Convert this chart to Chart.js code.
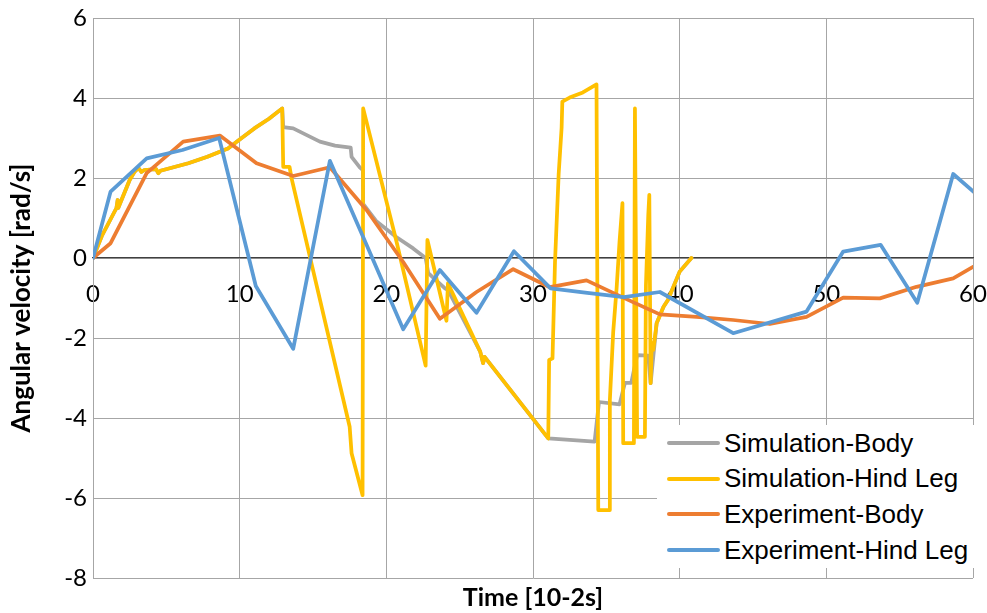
<!DOCTYPE html>
<html>
<head>
<meta charset="utf-8">
<script src="https://cdn.jsdelivr.net/npm/chart.js@4.4.1/dist/chart.umd.min.js"></script>
<style>
  body { margin: 0; background: #fff; }
  #wrap { position: relative; width: 987px; height: 613px; }
  #legend {
    position: absolute; left: 657px; top: 425px; width: 318px; height: 143px;
    background: #fff; font-family: "Liberation Sans", Arial, sans-serif; font-size: 26px; color: #000;
  }
  #legend .row { position: absolute; left: 0; height: 36px; display: flex; align-items: center; white-space: nowrap; }
  #legend .swatch { width: 53px; height: 4px; border-radius: 2px; margin-left: 10px; margin-right: 4px; }
</style>
</head>
<body>
<div id="wrap">
  <canvas id="c" width="987" height="613"></canvas>
  <div id="legend"></div>
</div>
<script>
// time axis in units of 10^-2 s, angular velocity in rad/s
const seriesNames = ["Simulation-Body", "Simulation-Hind Leg", "Experiment-Body", "Experiment-Hind Leg"];
const seriesColors = ["#A5A5A5", "#FFC000", "#ED7D31", "#5B9BD5"];

const simLegT = [0, 0.6, 1.6, 1.68, 1.72, 2.5, 2.84, 3.1, 3.3, 3.5, 4.3, 4.45, 4.6, 6.5, 7.8, 9.2, 10.0, 11.0, 12.0, 12.9,
  12.97, 13.4, 13.54, 17.5, 17.63, 18.38, 18.42, 20.7, 22.68, 22.8, 24.1, 24.2, 26.4, 26.6, 26.7, 31.04,
  31.1, 31.33, 31.5, 31.75, 31.95, 32.0, 32.5, 33.4, 34.33, 34.45, 35.24, 35.24, 35.47, 35.7, 35.9, 36.1,
  36.15, 36.88, 36.95, 37.1, 37.63, 37.7, 37.86, 37.93, 38.02, 38.1, 38.2, 38.43, 38.9, 39.2, 40.0, 40.8];
const simLegV = [0, 0.55, 1.25, 1.45, 1.25, 1.95, 2.16, 2.25, 2.15, 2.2, 2.22, 2.12, 2.18, 2.37, 2.53, 2.74, 2.96, 3.24, 3.48, 3.74,
  2.28, 2.28, 1.99, -4.22, -4.88, -5.93, 3.74, 0.4, -2.69, 0.45, -1.57, -0.63, -2.34, -2.63, -2.47, -4.51,
  -2.55, -2.51, -0.1, 2.1, 3.25, 3.91, 4.01, 4.14, 4.34, -6.3, -6.3, -3.55, -1.84, -0.76, 0.41, 1.37,
  -4.63, -4.63, 3.74, -4.47, -4.47, -0.68, 1.08, 1.58, -3.13, -2.13, -2.3, -1.63, -1.22, -1.05, -0.34, 0.0];

const simBodyT = [0, 0.6, 1.6, 1.68, 1.72, 2.5, 2.84, 3.1, 3.3, 3.5, 4.3, 4.45, 4.6, 6.5, 7.8, 9.2, 10.0, 11.0, 12.0, 12.9,
  12.97, 13.65, 15.47, 16.5, 17.57, 17.63, 18.2, 18.4, 18.42, 19.34, 20.7, 21.83, 22.68, 22.86, 24.0, 24.2,
  26.4, 26.6, 26.7, 31.04, 34.2, 34.5, 35.9, 36.27, 36.7, 37.1, 37.86, 38.02, 38.43, 38.9, 39.2, 40.0, 40.8];
const simBodyV = [0, 0.55, 1.25, 1.45, 1.25, 1.95, 2.16, 2.25, 2.15, 2.2, 2.22, 2.12, 2.18, 2.37, 2.53, 2.74, 2.96, 3.24, 3.48, 3.74,
  3.27, 3.24, 2.91, 2.81, 2.76, 2.53, 2.26, 2.2, 1.35, 0.91, 0.52, 0.24, 0.0, -0.38, -0.76, -0.8,
  -2.34, -2.63, -2.47, -4.51, -4.59, -3.6, -3.66, -3.12, -3.12, -2.43, -2.44, -3.13, -1.63, -1.22, -1.05, -0.34, 0.0];

const expBodyT = [0, 1.2, 3.66, 6.15, 8.65, 11.15, 13.65, 16.15, 18.65, 21.15, 23.65, 26.15, 28.65, 31.15, 33.65, 36.15,
  38.65, 41.15, 43.65, 46.15, 48.65, 51.15, 53.65, 56.15, 58.65, 61.15];
const expBodyV = [0, 0.37, 2.12, 2.91, 3.06, 2.37, 2.05, 2.27, 1.2, -0.1, -1.52, -0.85, -0.28, -0.73, -0.56, -0.99,
  -1.41, -1.47, -1.55, -1.65, -1.47, -0.99, -1.01, -0.72, -0.51, 0.02];

const expLegT = [0, 1.2, 3.66, 6.1, 8.6, 11.1, 13.65, 16.15, 18.65, 21.15, 23.65, 26.15, 28.7, 31.2, 33.7, 36.2,
  38.65, 43.65, 48.65, 51.15, 53.7, 56.2, 58.65, 61.15];
const expLegV = [0, 1.66, 2.49, 2.7, 3.0, -0.7, -2.27, 2.43, 0.33, -1.78, -0.3, -1.37, 0.17, -0.76, -0.87, -0.98,
  -0.85, -1.88, -1.34, 0.16, 0.33, -1.12, 2.1, 1.3];

const xTicks = [0, 10, 20, 30, 40, 50, 60];
const yTicks = [-8, -6, -4, -2, 0, 2, 4, 6];

function pts(t, v) { return t.map((x, i) => ({ x: x, y: v[i] })); }

const seriesData = [pts(simBodyT, simBodyV), pts(simLegT, simLegV), pts(expBodyT, expBodyV), pts(expLegT, expLegV)];

const datasets = seriesData.map((d, i) => ({
  label: seriesNames[i],
  data: d,
  borderColor: seriesColors[i],
  backgroundColor: seriesColors[i],
  borderWidth: 3.75,
  borderJoinStyle: 'round',
  borderCapStyle: 'round',
  pointRadius: 0,
  tension: 0,
  fill: false,
  xAxisID: 'x',
  yAxisID: 'y',
  order: 4 - i   // later series drawn on top
}));

const tickFont = { family: 'Lato', size: 24 };
const gridColor = '#A6A6A6';

// tick labels may hang over the plot edges; the layout padding alone sets the plot box
function noLabelPadding(s) { s.paddingLeft = 0; s.paddingRight = 0; s.paddingTop = 0; s.paddingBottom = 0; }

new Chart(document.getElementById('c'), {
  type: 'line',
  data: { datasets: datasets },
  options: {
    responsive: false,
    animation: false,
    layout: { padding: { top: 18, right: 14, left: 0, bottom: 0 } },
    plugins: { legend: { display: false }, tooltip: { enabled: false } },
    scales: {
      x: {
        type: 'linear',
        position: { y: 0 },
        min: 0, max: 60,
        afterBuildTicks: (s) => { s.ticks = xTicks.map(v => ({ value: v })); },
        afterFit: noLabelPadding,
        ticks: { font: tickFont, color: '#000', padding: 22, autoSkip: false, maxRotation: 0 },
        grid: { color: gridColor, drawTicks: false },
        border: { display: true, color: '#404040', width: 1.2 }
      },
      xt: {
        type: 'linear',
        position: 'bottom',
        min: 0, max: 60,
        ticks: { display: false },
        grid: { display: false, drawTicks: false },
        border: { display: false },
        title: { display: true, text: 'Time [10-2s]', font: { family: 'Lato', size: 25, weight: 'bold' }, color: '#000', padding: { top: 5, bottom: 0 } }
      },
      y: {
        type: 'linear',
        min: -8, max: 6,
        afterBuildTicks: (s) => { s.ticks = yTicks.map(v => ({ value: v })); },
        afterFit: (s) => { noLabelPadding(s); s.width = 93; },
        ticks: { font: tickFont, color: '#000', padding: 6 },
        grid: { color: gridColor, drawTicks: false },
        border: { display: true, color: gridColor },
        title: { display: true, text: 'Angular velocity [rad/s]', font: { family: 'Lato', size: 26, weight: 'bold' }, color: '#000', padding: { top: 6, bottom: 0 } }
      }
    }
  }
});

// legend box inside the plot, bottom right
const legend = document.getElementById('legend');
seriesNames.forEach((name, i) => {
  const row = document.createElement('div');
  row.className = 'row';
  row.style.top = (i * 35.7) + 'px';
  const sw = document.createElement('span');
  sw.className = 'swatch';
  sw.style.background = seriesColors[i];
  const txt = document.createElement('span');
  txt.textContent = name;
  row.appendChild(sw);
  row.appendChild(txt);
  legend.appendChild(row);
});
</script>
</body>
</html>
